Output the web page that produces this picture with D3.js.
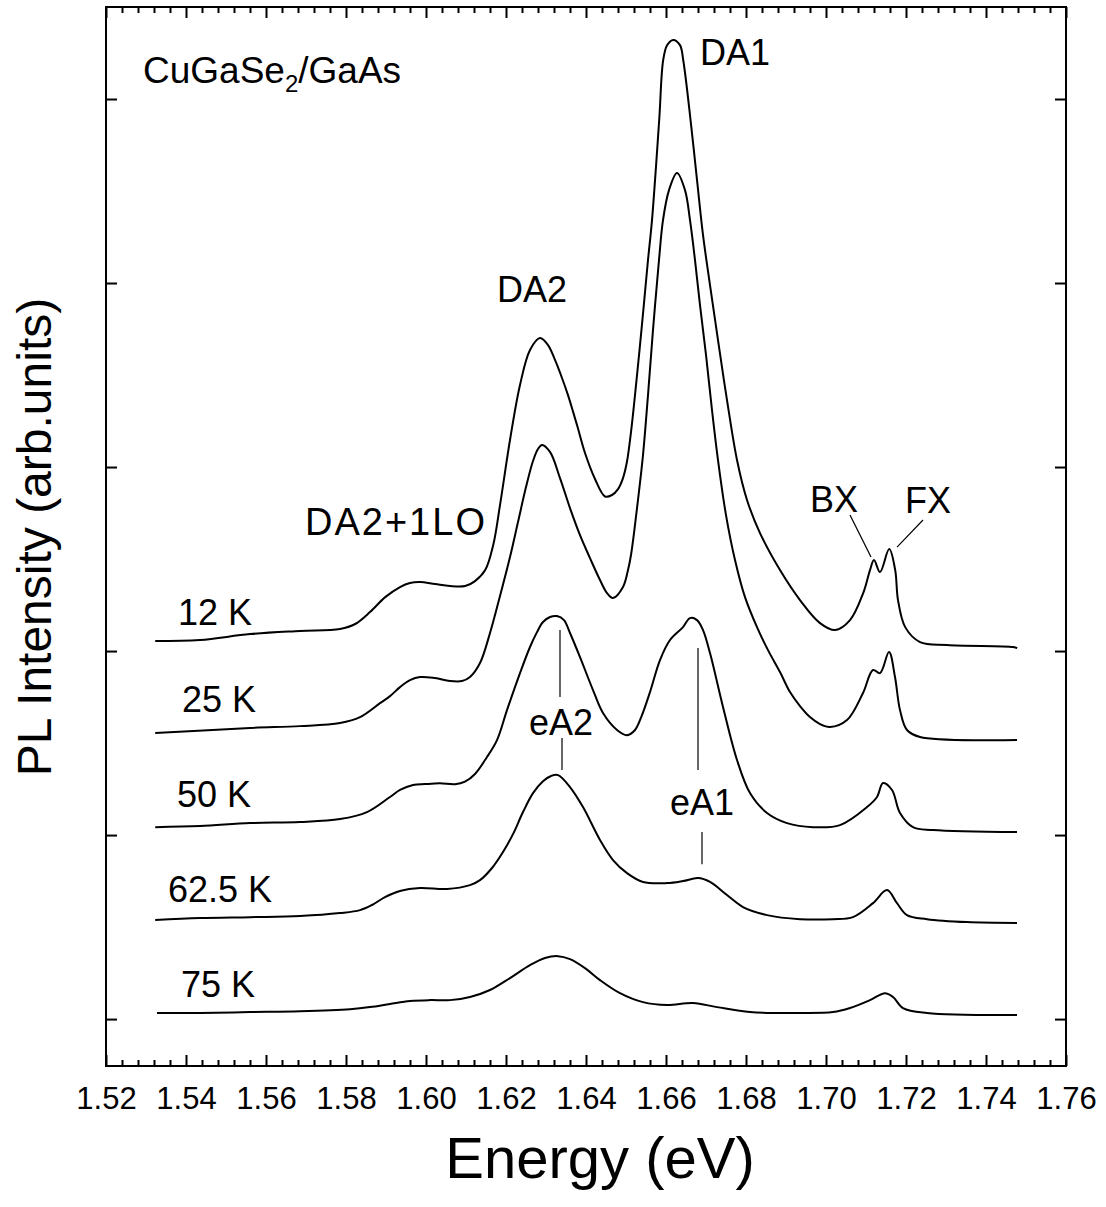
<!DOCTYPE html>
<html>
<head>
<meta charset="utf-8">
<script src="https://cdn.jsdelivr.net/npm/d3@7"></script>
<style>
body { margin: 0; background: #fff; }
text { font-family: "Liberation Sans", Arial, sans-serif; fill: #000; }
</style>
</head>
<body>
<div id="chart"></div>
<script>
// PL spectra, [energy (eV), intensity incl. vertical offset]
var pl12 = [[1.5323,2.054],[1.5435,2.060],[1.556,2.092],[1.5685,2.109],[1.5785,2.120],[1.5823,2.147],[1.586,2.212],
  [1.5898,2.293],[1.5935,2.348],[1.596,2.370],[1.5985,2.375],[1.60225,2.364],[1.606,2.353],[1.6098,2.353],[1.61225,2.380],
  [1.6148,2.440],[1.6168,2.576],[1.6185,2.793],[1.621,3.147],[1.6235,3.446],[1.626,3.636],[1.6285,3.701],[1.6305,3.663],
  [1.63225,3.582],[1.634,3.484],[1.6355,3.391],[1.63775,3.228],[1.63975,3.076],[1.64225,2.935],[1.64475,2.840],
  [1.6465,2.848],[1.648,2.880],[1.64925,2.940],[1.65025,3.030],[1.65125,3.190],[1.65225,3.391],[1.6535,3.663],[1.6545,3.891],
  [1.6555,4.125],[1.6565,4.342],[1.6583,4.886],[1.6593,5.212],[1.6603,5.293],[1.6618,5.321],[1.6635,5.293],[1.6643,5.212],
  [1.666,4.913],[1.66775,4.560],[1.66925,4.261],[1.671,3.989],[1.673,3.690],[1.67525,3.364],[1.67775,3.038],[1.68025,2.821],
  [1.6835,2.641],[1.6885,2.440],[1.6935,2.277],[1.6985,2.152],[1.7023,2.114],[1.706,2.168],[1.7093,2.315],[1.711,2.440],
  [1.712,2.495],[1.7135,2.429],[1.7158,2.554],[1.7173,2.440],[1.718,2.277],[1.7198,2.130],[1.7235,2.049],[1.7303,2.033],
  [1.7468,2.022],[1.7478,2.016]];

var pl25 = [[1.5323,1.554],[1.556,1.582],[1.5685,1.592],[1.5785,1.609],[1.5835,1.641],[1.5885,1.717],[1.591,1.755],
  [1.5935,1.804],[1.596,1.842],[1.5985,1.859],[1.60225,1.853],[1.606,1.837],[1.609,1.837],[1.611,1.859],[1.6135,1.935],
  [1.616,2.098],[1.6185,2.299],[1.621,2.511],[1.623,2.701],[1.625,2.891],[1.62675,3.033],[1.628,3.098],[1.629,3.120],
  [1.631,3.082],[1.6335,2.940],[1.636,2.777],[1.6385,2.630],[1.641,2.505],[1.6435,2.386],[1.64525,2.315],[1.64675,2.288],
  [1.64925,2.348],[1.6505,2.440],[1.65125,2.522],[1.652,2.641],[1.653,2.821],[1.65425,3.065],[1.6555,3.391],[1.65675,3.745],
  [1.65825,4.125],[1.65925,4.342],[1.66075,4.505],[1.66275,4.598],[1.66475,4.505],[1.666,4.342],[1.66725,4.125],
  [1.6685,3.880],[1.67,3.609],[1.6715,3.310],[1.673,3.038],[1.675,2.739],[1.67725,2.495],[1.67975,2.293],[1.68275,2.130],
  [1.6855,2.005],[1.6885,1.886],[1.691,1.777],[1.6935,1.701],[1.696,1.641],[1.6985,1.603],[1.701,1.587],[1.70525,1.625],
  [1.70925,1.772],[1.71175,1.897],[1.7135,1.880],[1.71575,1.995],[1.71725,1.859],[1.7185,1.679],[1.72025,1.571],
  [1.7235,1.533],[1.74775,1.516]];

var pl50 = [[1.5323,1.043],[1.5435,1.049],[1.556,1.065],[1.5685,1.071],[1.5785,1.087],[1.58525,1.125],[1.591,1.207],
  [1.5935,1.245],[1.59675,1.272],[1.59975,1.277],[1.6035,1.281],[1.60725,1.276],[1.60975,1.290],[1.61225,1.332],[1.61525,1.424],
  [1.61775,1.516],[1.62025,1.679],[1.6235,1.880],[1.626,2.022],[1.62775,2.103],[1.62925,2.158],[1.631,2.185],[1.63275,2.190],
  [1.6345,2.168],[1.636,2.098],[1.6385,1.967],[1.64175,1.788],[1.64425,1.663],[1.64775,1.571],[1.65025,1.543],[1.65225,1.571],
  [1.654,1.652],[1.656,1.777],[1.6585,1.951],[1.661,2.060],[1.66425,2.130],[1.666,2.179],[1.66775,2.168],[1.66925,2.114],
  [1.671,1.989],[1.67425,1.696],[1.67775,1.408],[1.681,1.228],[1.68525,1.120],[1.69025,1.065],[1.69675,1.043],[1.7035,1.054],
  [1.71025,1.152],[1.71275,1.207],[1.71425,1.283],[1.7165,1.245],[1.7185,1.120],[1.72175,1.043],[1.72675,1.027],[1.74775,1.016]];

var pl625 = [[1.5323,0.538],[1.5435,0.549],[1.556,0.554],[1.5685,0.560],[1.5785,0.576],[1.5835,0.592],[1.5865,0.620],
  [1.58975,0.663],[1.5935,0.696],[1.5985,0.712],[1.60525,0.707],[1.611,0.728],[1.6135,0.755],[1.6165,0.821],[1.61925,0.908],
  [1.62175,1.005],[1.62425,1.125],[1.62675,1.228],[1.62925,1.293],[1.63125,1.321],[1.633,1.326],[1.636,1.261],[1.63925,1.152],
  [1.6435,0.973],[1.64675,0.864],[1.65025,0.793],[1.65425,0.745],[1.66025,0.739],[1.66425,0.750],[1.668,0.766],[1.671,0.745],
  [1.67525,0.674],[1.67925,0.609],[1.68525,0.565],[1.6935,0.543],[1.70175,0.543],[1.70675,0.554],[1.71175,0.630],
  [1.71525,0.701],[1.71775,0.630],[1.72025,0.565],[1.72525,0.543],[1.73525,0.527],[1.74775,0.522]];

var pl75 = [[1.53275,0.033],[1.5435,0.033],[1.556,0.038],[1.5685,0.043],[1.581,0.054],[1.586,0.065],[1.591,0.082],
  [1.596,0.098],[1.601,0.103],[1.606,0.103],[1.611,0.120],[1.616,0.158],[1.621,0.223],[1.626,0.293],[1.62975,0.332],
  [1.633,0.342],[1.636,0.326],[1.63975,0.277],[1.6435,0.212],[1.6485,0.141],[1.65425,0.092],[1.66025,0.076],[1.66675,0.087],
  [1.67275,0.065],[1.681,0.038],[1.6935,0.033],[1.70175,0.038],[1.706,0.060],[1.711,0.103],[1.71475,0.141],[1.71675,0.120],
  [1.71925,0.060],[1.72525,0.033],[1.74775,0.022]];

var spectra = [pl12, pl25, pl50, pl625, pl75];
var temps = ["12 K", "25 K", "50 K", "62.5 K", "75 K"];
// where each temperature label sits (energy, intensity)
var tempPos = [[1.538,2.141],[1.539,1.668],[1.53775,1.152],[1.5355,0.636],[1.53875,0.120]];

// peak labels
var peakNames = ["DA1", "DA2", "DA2+1LO", "BX", "FX", "eA2", "eA1"];
var peakPos = [[1.6685,5.185],[1.61775,3.897],[1.56975,2.630],[1.696,2.755],[1.71975,2.750],[1.62575,1.543],[1.661,1.109]];

// marker lines [[e1,i1],[e2,i2]]
var markers = [
  [[1.706,2.739],[1.71125,2.511]],
  [[1.72425,2.712],[1.71775,2.565]],
  [[1.6335,2.114],[1.6335,1.750]],
  [[1.634,1.527],[1.634,1.353]],
  [[1.668,2.016],[1.668,1.353]],
  [[1.669,1.016],[1.669,0.842]]
];

var xTicks = [1.52,1.54,1.56,1.58,1.60,1.62,1.64,1.66,1.68,1.70,1.72,1.74,1.76];
var yTicks = [0,1,2,3,4,5];

const width = 1106, height = 1207;
const padding = {top: 7, right: 40, bottom: 141, left: 106};

const xScale = d3.scaleLinear().domain([1.52, 1.76]).range([padding.left, width - padding.right]);
const yScale = d3.scaleLinear().domain([-0.255, 5.5]).range([height - padding.bottom, padding.top]);

var svg = d3.select("#chart").append("svg")
  .attr("width", width)
  .attr("height", height);

var minor = d3.range(1.52, 1.7601, 0.004).filter(function(v){
  return Math.abs(v*50 - Math.round(v*50)) > 1e-6;
});

function minorAxis(axisFn, yPos){
  svg.append("g").attr("transform", "translate(0," + yPos + ")")
    .call(axisFn(xScale).tickValues(minor).tickSize(-6).tickFormat(""))
    .call(g => g.select(".domain").remove())
    .selectAll("line").attr("stroke-width", 2);
}
minorAxis(d3.axisBottom, yScale.range()[0]);
minorAxis(d3.axisTop, yScale.range()[1]);

var gx = svg.append("g").attr("transform", "translate(0," + yScale.range()[0] + ")")
  .call(d3.axisBottom(xScale).tickValues(xTicks).tickSize(-11).tickPadding(21).tickFormat(d3.format(".2f")));
gx.select(".domain").remove();
gx.selectAll("line").attr("stroke-width", 2);
gx.selectAll("text").style("font-size", "31px");
gx.attr("font-family", null);

svg.append("g").attr("transform", "translate(0," + yScale.range()[1] + ")")
  .call(d3.axisTop(xScale).tickValues(xTicks).tickSize(-11).tickFormat(""))
  .call(g => g.select(".domain").remove())
  .selectAll("line").attr("stroke-width", 2);

svg.append("g").attr("transform", "translate(" + xScale.range()[0] + ",0)")
  .call(d3.axisLeft(yScale).tickValues(yTicks).tickSize(-11).tickFormat(""))
  .call(g => g.select(".domain").remove())
  .selectAll("line").attr("stroke-width", 2);
svg.append("g").attr("transform", "translate(" + xScale.range()[1] + ",0)")
  .call(d3.axisRight(yScale).tickValues(yTicks).tickSize(-11).tickFormat(""))
  .call(g => g.select(".domain").remove())
  .selectAll("line").attr("stroke-width", 2);

// frame
svg.append("rect")
  .attr("x", xScale.range()[0]).attr("y", yScale.range()[1])
  .attr("width", xScale.range()[1] - xScale.range()[0])
  .attr("height", yScale.range()[0] - yScale.range()[1])
  .attr("fill", "none").attr("stroke", "#000").attr("stroke-width", 2);

var line = d3.line()
  .x(d => xScale(d[0]))
  .y(d => yScale(d[1]))
  .curve(d3.curveCatmullRom.alpha(0.5));

svg.append("g").selectAll("path")
  .data(spectra)
  .enter()
  .append("path")
  .attr("d", line)
  .attr("fill", "none")
  .attr("stroke", "#000")
  .attr("stroke-width", 2)
  .attr("stroke-linejoin", "round");

svg.append("g").selectAll("line")
  .data(markers)
  .enter()
  .append("line")
  .attr("x1", d => xScale(d[0][0])).attr("y1", d => yScale(d[0][1]))
  .attr("x2", d => xScale(d[1][0])).attr("y2", d => yScale(d[1][1]))
  .attr("stroke", "#000").attr("stroke-width", 1.2);

svg.append("g").selectAll("text")
  .data(temps)
  .enter()
  .append("text")
  .attr("x", (d,i) => xScale(tempPos[i][0]))
  .attr("y", (d,i) => yScale(tempPos[i][1]))
  .style("font-size", "36px")
  .text(d => d);

svg.append("g").selectAll("text")
  .data(peakNames)
  .enter()
  .append("text")
  .attr("x", (d,i) => xScale(peakPos[i][0]))
  .attr("y", (d,i) => yScale(peakPos[i][1]))
  .style("font-size", d => d == "DA2+1LO" ? "38px" : "36px")
  .style("letter-spacing", d => d == "DA2+1LO" ? "2px" : null)
  .text(d => d);

// sample label with subscript
var sample = svg.append("text")
  .attr("x", xScale(1.52925)).attr("y", yScale(5.087))
  .style("font-size", "37px");
sample.append("tspan").text("CuGaSe");
sample.append("tspan").attr("dy", 9).style("font-size", "24px").text("2");
sample.append("tspan").attr("dy", -9).text("/GaAs");

svg.append("text")
  .attr("x", xScale(1.6435))
  .attr("y", 1178)
  .attr("text-anchor", "middle")
  .style("font-size", "58px")
  .text("Energy (eV)");

svg.append("text")
  .attr("transform", "translate(51,537) rotate(-90)")
  .attr("text-anchor", "middle")
  .style("font-size", "48px")
  .text("PL Intensity (arb.units)");
</script>
</body>
</html>
